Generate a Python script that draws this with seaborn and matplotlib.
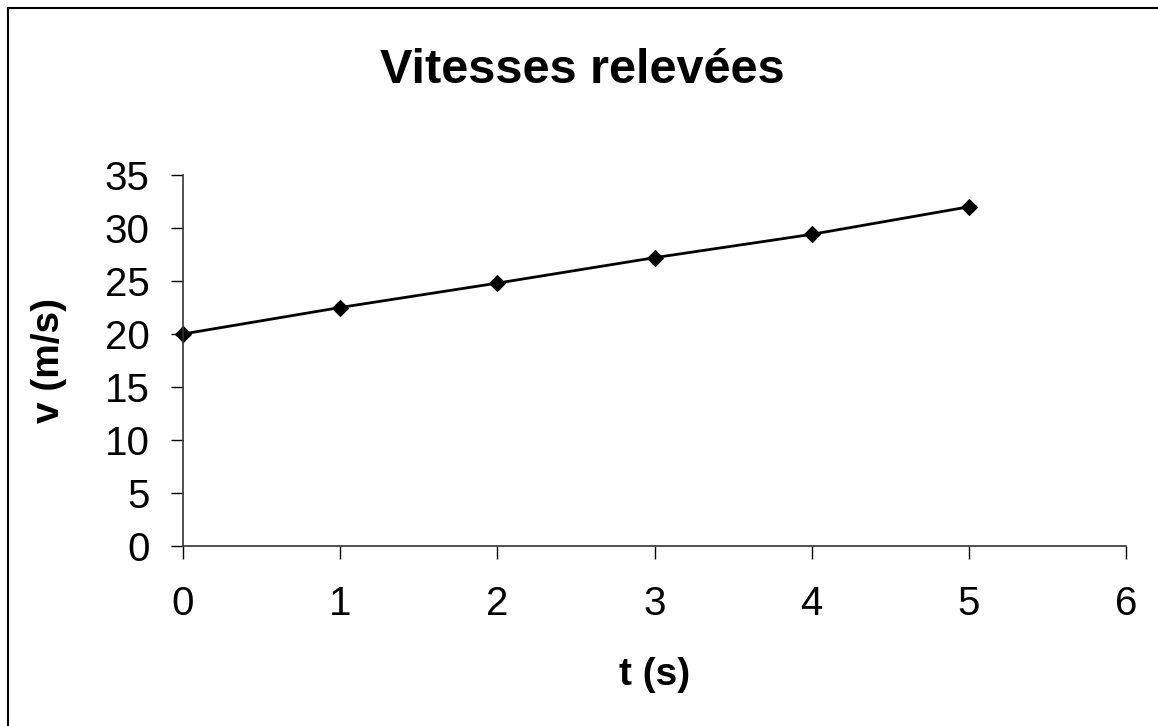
import matplotlib
matplotlib.use("Agg")
import matplotlib.pyplot as plt
from matplotlib.lines import Line2D
import seaborn as sns
import pandas as pd

# Data
t_values = [0, 1, 2, 3, 4, 5]
v_values = [20, 22.5, 24.8, 27.2, 29.4, 32]
x_ticks = [0, 1, 2, 3, 4, 5, 6]
y_ticks = [0, 5, 10, 15, 20, 25, 30, 35]

sns.set_theme(style="ticks")
plt.rcParams['font.family'] = ['Liberation Sans', 'DejaVu Sans']
plt.rcParams['text.color'] = 'black'
plt.rcParams['axes.labelcolor'] = 'black'
plt.rcParams['xtick.color'] = 'black'
plt.rcParams['ytick.color'] = 'black'

df = pd.DataFrame({"t (s)": t_values, "v (m/s)": v_values})

W, H = 1158, 726
fig = plt.figure(figsize=(W / 100, H / 100), dpi=100)
fig.patch.set_facecolor("white")
ax = fig.add_axes([183 / W, 1 - 546 / H, (1126 - 183) / W, (546 - 175) / H])

sns.lineplot(data=df, x="t (s)", y="v (m/s)", ax=ax, color="black",
             linewidth=2, marker="D", markersize=8.5,
             markerfacecolor="black", markeredgecolor="black")
for ln in ax.lines:
    ln.set_clip_on(False)

ax.set_xlim(0, 6)
ax.set_ylim(0, 35)
ax.set_xticks(x_ticks)
ax.set_yticks(y_ticks)
ax.tick_params(axis="both", labelsize=29, colors="black", labelcolor="black",
               width=1, length=9, direction="out")
ax.tick_params(axis="x", pad=19)
ax.tick_params(axis="y", pad=15)

for s in ["top", "right"]:
    ax.spines[s].set_visible(False)
for s in ["left", "bottom"]:
    ax.spines[s].set_color("#333333")
    ax.spines[s].set_linewidth(1.2)

ax.set_xlabel("t (s)", fontsize=28, fontweight="bold", color="black")
ax.set_ylabel("v (m/s)", fontsize=28, fontweight="bold", color="black")
ax.xaxis.set_label_coords(0.5, (546 - 657) / 371)
ax.yaxis.set_label_coords((67 - 183) / 943, 0.5)

fig.text(582 / W, 1 - 83 / H, "Vitesses relevées", fontsize=35,
         fontweight="bold", ha="center", va="baseline", color="black")

# Partial frame (top and left edges)
fig.add_artist(Line2D([8 / W, 1], [1 - 8 / H, 1 - 8 / H], color="black",
                      linewidth=1.5, transform=fig.transFigure))
fig.add_artist(Line2D([8 / W, 8 / W], [0, 1 - 8 / H], color="black",
                      linewidth=1.5, transform=fig.transFigure))

fig.savefig("out.png", dpi=100, facecolor="white")
